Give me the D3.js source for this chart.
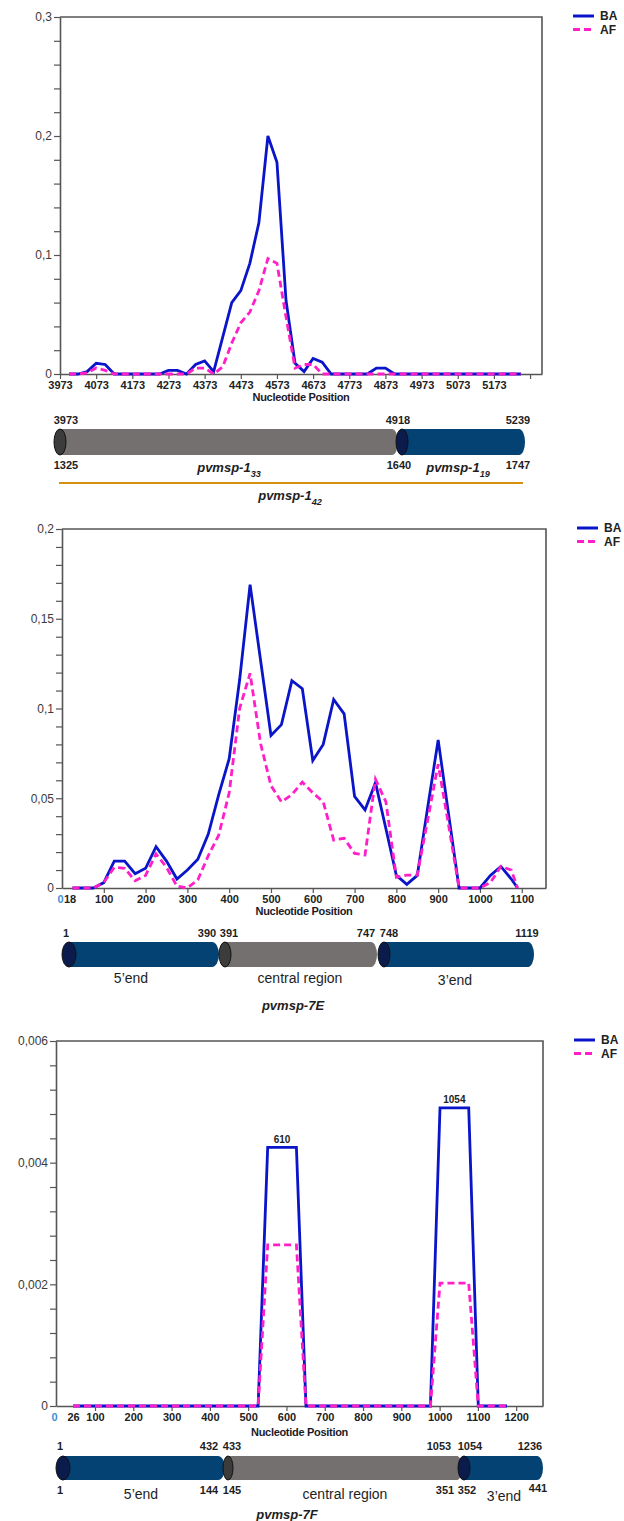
<!DOCTYPE html>
<html><head><meta charset="utf-8">
<script src="https://cdn.jsdelivr.net/npm/d3@7"></script>
<style>
body{margin:0;background:#fff}
svg{display:block}
text{font-family:"Liberation Sans",Arial,Helvetica,sans-serif}
</style>
</head><body>
<svg id="c" width="624" height="1521"></svg>
<script>
// ---------------- DATA ----------------
const seriesNames = ["BA", "AF"];

// Chart 1 : pvmsp-1_42
const msp1Pos = [3998,4023,4048,4073,4098,4123,4148,4173,4198,4223,4248,4273,4298,4323,4348,4373,4398,4423,4448,4473,4498,4523,4548,4573,4598,4623,4648,4673,4698,4723,4748,4773,4798,4823,4848,4873,4898,4923,4948,4973,4998,5023,5048,5073,5098,5123,5148,5173,5198,5223,5248];
const msp1BA = [0,0,0.002,0.009,0.008,0,0,0,0,0,0,0.003,0.003,0,0.008,0.011,0.002,0.031,0.060,0.070,0.093,0.127,0.200,0.178,0.062,0.009,0.002,0.013,0.010,0,0,0,0,0,0.005,0.005,0,0,0,0,0,0,0,0,0,0,0,0,0,0,0];
const msp1AF = [0,0,0.001,0.005,0.003,0,0,0,0,0,0,0,0,0,0.005,0.005,0,0.006,0.026,0.043,0.052,0.070,0.097,0.093,0.048,0.005,0.008,0.008,0,0,0,0,0,0,0,0,0,0,0,0,0,0,0,0,0,0,0,0,0,0,0];
const msp1XTicks = [3973,4073,4173,4273,4373,4473,4573,4673,4773,4873,4973,5073,5173,5273];
const msp1XTickLabels = ["3973","4073","4173","4273","4373","4473","4573","4673","4773","4873","4973","5073","5173",""];
const msp1YTicks = [0,0.1,0.2,0.3];
const msp1YTickLabels = ["0","0,1","0,2","0,3"];
const msp1GeneTop = ["3973","4918","5239"];
const msp1GeneBottom = ["1325","1640","1747"];
const msp1Names = [["pvmsp-1","33"],["pvmsp-1","19"],["pvmsp-1","42"]];

// Chart 2 : pvmsp-7E
const e7Pos = [25,50,75,100,125,150,175,200,225,250,275,300,325,350,375,400,425,450,475,500,525,550,575,600,625,650,675,700,725,750,775,800,825,850,875,900,925,950,975,1000,1025,1050,1075,1090];
const e7BA = [0,0,0,0.003,0.015,0.015,0.008,0.011,0.023,0.015,0.005,0.010,0.016,0.030,0.052,0.072,0.116,0.169,0.127,0.085,0.091,0.1155,0.111,0.071,0.080,0.105,0.097,0.051,0.0435,0.0587,0.033,0.007,0.002,0.007,0.045,0.0825,0.041,0,0,0,0.007,0.012,0.005,0];
const e7AF = [0,0,0,0.003,0.0115,0.011,0.004,0.007,0.019,0.0115,0.001,0,0.0045,0.018,0.0295,0.053,0.100,0.1196,0.0806,0.057,0.048,0.052,0.059,0.053,0.048,0.0267,0.0277,0.0193,0.0184,0.0606,0.048,0.006,0.0072,0.0072,0.038,0.069,0.035,0,0,0,0.003,0.012,0.010,0];
const e7XTicks = [0,18,100,200,300,400,500,600,700,800,900,1000,1100];
const e7XTickLabels = ["0","18","100","200","300","400","500","600","700","800","900","1000","1100"];
const e7YTicks = [0,0.05,0.1,0.15,0.2];
const e7YTickLabels = ["0","0,05","0,1","0,15","0,2"];
const e7GeneTop = ["1","390","391","747","748","1119"];
const e7Regions = ["5\u2019end","central region","3\u2019end"];
const e7Name = "pvmsp-7E";

// Chart 3 : pvmsp-7F
const f7Pos = [26,526,551,626,651,976,1001,1076,1101,1176];
const f7BA = [0,0,0.00425,0.00425,0,0,0.0049,0.0049,0,0];
const f7AF = [0,0,0.00265,0.00265,0,0,0.00202,0.00202,0,0];
const f7PeakLabels = ["610","1054"];
const f7XTicks = [0,26,100,200,300,400,500,600,700,800,900,1000,1100,1200];
const f7XTickLabels = ["0","26","100","200","300","400","500","600","700","800","900","1000","1100","1200"];
const f7YTicks = [0,0.002,0.004,0.006];
const f7YTickLabels = ["0","0,002","0,004","0,006"];
const f7GeneTop = ["1","432","433","1053","1054","1236"];
const f7GeneBottom = ["1","144","145","351","352","441"];
const f7Regions = ["5\u2019end","central region","3\u2019end"];
const f7Name = "pvmsp-7F";

// ---------------- STYLE ----------------
const BLUE = "#0a14c8", PINK = "#ff1ec8";
const AXIS = "#555";
const GRAY_BODY = "#747070", GRAY_CAP = "#3c3c3c";
const BLUE_BODY = "#034272", BLUE_CAP = "#0b1c4c";

const svg = d3.select("#c");

function drawChart(cfg) {
  const g = svg.append("g");
  const x = d3.scaleLinear().domain(cfg.xDomain).range(cfg.xRange);
  const y = d3.scaleLinear().domain(cfg.yDomain).range([cfg.bottom, cfg.top]);
  const left = cfg.xRange[0], right = cfg.xRange[cfg.xRange.length - 1];

  // frame (top + right)
  g.append("path")
    .attr("d", `M${left},${cfg.top}H${right}V${cfg.bottom}`)
    .attr("fill", "none").attr("stroke", AXIS).attr("stroke-width", 1.6);

  // y axis with minor ticks
  const minor = d3.range(0, cfg.yDomain[1] + cfg.yMinor / 2, cfg.yMinor);
  const labFor = d => {
    const i = cfg.yTicks.findIndex(m => Math.abs(m - d) < 1e-9);
    return i >= 0 ? cfg.yTickLabels[i] : "";
  };
  const ya = g.append("g").attr("transform", `translate(${left},0)`)
    .call(d3.axisLeft(y).tickValues(minor).tickSize(6).tickSizeOuter(0).tickPadding(2).tickFormat(labFor));
  ya.select(".domain").attr("stroke", AXIS).attr("stroke-width", 1.6);
  ya.selectAll(".tick line").attr("stroke", AXIS).attr("stroke-width", 1.2);
  ya.selectAll(".tick text").attr("font-size", 12).attr("fill", "#3a3a3a")
    .attr("font-family", "Liberation Sans, Arial, sans-serif");

  // x axis
  const xa = g.append("g").attr("transform", `translate(0,${cfg.bottom})`)
    .call(d3.axisBottom(x).tickValues(cfg.xTicks).tickSize(5).tickSizeOuter(0).tickPadding(2)
      .tickFormat((d, i) => cfg.xTickLabels[i]));
  xa.select(".domain").attr("stroke", AXIS).attr("stroke-width", 1.6);
  xa.selectAll(".tick line").attr("stroke", AXIS).attr("stroke-width", 1.2);
  xa.selectAll(".tick text").attr("font-size", 11).attr("font-weight", "bold")
    .attr("font-family", "Liberation Sans, Arial, sans-serif")
    .attr("fill", d => (cfg.zeroBlue && d === 0) ? "#3d8fd6" : "#222")
    .attr("dx", d => (cfg.zeroBlue && d === 0) ? -2 : 0);
  if (cfg.hideTickAt) {
    xa.selectAll(".tick").filter(d => cfg.hideTickAt.includes(d)).select("line").remove();
  }

  // axis title
  g.append("text").attr("x", (left + right) / 2).attr("y", cfg.bottom + cfg.titleOffset)
    .attr("dy", "0.35em").attr("text-anchor", "middle")
    .attr("font-size", 11).attr("font-weight", "bold").attr("letter-spacing", -0.3).attr("fill", "#1a1a2a")
    .text("Nucleotide Position");

  // lines
  const line = d3.line().x(d => x(d[0])).y(d => y(d[1]));
  const ba = cfg.pos.map((p, i) => [p, cfg.ba[i]]);
  const af = cfg.pos.map((p, i) => [p, cfg.af[i]]);
  g.append("path").datum(ba).attr("d", line).attr("fill", "none")
    .attr("stroke", BLUE).attr("stroke-width", 2.8).attr("stroke-linejoin", "miter");
  g.append("path").datum(af).attr("d", line).attr("fill", "none")
    .attr("stroke", PINK).attr("stroke-width", 2.8).attr("stroke-dasharray", "7,4");

  // legend
  const lg = g.append("g");
  [0, 1].forEach(i => {
    const ly = cfg.top - 1 + i * 13.5;
    lg.append("line").attr("x1", right + 31).attr("x2", right + 52)
      .attr("y1", ly).attr("y2", ly)
      .attr("stroke", i === 0 ? BLUE : PINK).attr("stroke-width", 3)
      .attr("stroke-dasharray", i === 0 ? null : "7,4");
    lg.append("text").attr("x", right + 58).attr("y", ly).attr("dy", "0.35em")
      .attr("font-size", 12).attr("font-weight", "bold").attr("fill", "#222")
      .text(seriesNames[i]);
  });
  return { x, y, g };
}

function cylinder(x0, x1, cy, h, body, cap, rx) {
  const ry = h / 2;
  svg.append("path")
    .attr("d", `M${x0},${cy - ry}H${x1 - rx}A${rx},${ry} 0 0 1 ${x1 - rx},${cy + ry}H${x0}Z`)
    .attr("fill", body);
  svg.append("ellipse").attr("cx", x0).attr("cy", cy).attr("rx", rx).attr("ry", ry)
    .attr("fill", cap).attr("stroke", "#111").attr("stroke-width", 1);
}

function label(txt, x, y, opts = {}) {
  const t = svg.append("text").attr("x", x).attr("y", y).attr("dy", "0.35em")
    .attr("text-anchor", opts.anchor || "middle")
    .attr("font-size", opts.size || 11)
    .attr("font-weight", opts.weight || "bold")
    .attr("font-style", opts.italic ? "italic" : null)
    .attr("fill", opts.fill || "#1e1e1e");
  if (Array.isArray(txt)) {
    t.append("tspan").text(txt[0]);
    t.append("tspan").attr("baseline-shift", "sub").attr("font-size", (opts.size || 11) * 0.7).text(txt[1]);
  } else t.text(txt);
  return t;
}

// ---------------- CHART 1 ----------------
drawChart({
  xRange: [60, 542], top: 17, bottom: 374, titleOffset: 23,
  xDomain: [3973, 5306], yDomain: [0, 0.3], yMinor: 0.02,
  xTicks: msp1XTicks, xTickLabels: msp1XTickLabels,
  yTicks: msp1YTicks, yTickLabels: msp1YTickLabels,
  pos: msp1Pos, ba: msp1BA, af: msp1AF
});
cylinder(60, 398, 442, 26, GRAY_BODY, GRAY_CAP, 6);
cylinder(402, 525, 442, 26, BLUE_BODY, BLUE_CAP, 6);
[66, 398, 518].forEach((px, i) => label(msp1GeneTop[i], px, 420));
[66, 399, 518].forEach((px, i) => label(msp1GeneBottom[i], px, 465));
label(msp1Names[0], 229, 467, { size: 13, italic: true });
label(msp1Names[1], 458, 467, { size: 13, italic: true });
svg.append("line").attr("x1", 59).attr("x2", 523).attr("y1", 483).attr("y2", 483)
  .attr("stroke", "#d4900e").attr("stroke-width", 2);
label(msp1Names[2], 290, 495, { size: 13, italic: true });

// ---------------- CHART 2 ----------------
drawChart({
  xRange: [62, 546], top: 529, bottom: 888, titleOffset: 23,
  xDomain: [0, 1158], yDomain: [0, 0.2], yMinor: 0.01,
  xTicks: e7XTicks, xTickLabels: e7XTickLabels, zeroBlue: true, hideTickAt: [0, 18],
  yTicks: e7YTicks, yTickLabels: e7YTickLabels,
  pos: e7Pos, ba: e7BA, af: e7AF
});
cylinder(69, 219, 954.5, 25, BLUE_BODY, BLUE_CAP, 7);
cylinder(225, 377, 954.5, 25, GRAY_BODY, GRAY_CAP, 6);
cylinder(384, 534, 954.5, 25, BLUE_BODY, BLUE_CAP, 6);
[66, 207, 229, 366, 389, 527].forEach((px, i) => label(e7GeneTop[i], px, 933));
label(e7Regions[0], 131, 978, { size: 14, weight: "normal" });
label(e7Regions[1], 300, 978, { size: 14, weight: "normal" });
label(e7Regions[2], 455, 980, { size: 14, weight: "normal" });
label(e7Name, 293, 1005, { size: 13, italic: true });

// ---------------- CHART 3 ----------------
const c3 = drawChart({
  xRange: [56, 73, 95, 543], top: 1041, bottom: 1406, titleOffset: 26,
  xDomain: [0, 26, 100, 1270], yDomain: [0, 0.006], yMinor: 0.0004,
  xTicks: f7XTicks, xTickLabels: f7XTickLabels, zeroBlue: true, hideTickAt: [0, 26],
  yTicks: f7YTicks, yTickLabels: f7YTickLabels,
  pos: f7Pos, ba: f7BA, af: f7AF
});
// peak annotations above BA plateaus
[[2, 3], [6, 7]].forEach((pair, k) => {
  const cx = (c3.x(f7Pos[pair[0]]) + c3.x(f7Pos[pair[1]])) / 2;
  const cy = c3.y(f7BA[pair[0]]) - 8;
  label(f7PeakLabels[k], cx, cy, { size: 10 });
});
cylinder(63, 225, 1468, 24, BLUE_BODY, BLUE_CAP, 7);
cylinder(228, 462, 1468, 24, GRAY_BODY, GRAY_CAP, 5);
cylinder(464, 543, 1468, 24, BLUE_BODY, BLUE_CAP, 6);
[60, 209, 232, 439, 470, 530].forEach((px, i) => label(f7GeneTop[i], px, 1446));
[60, 209, 232, 445, 467, 538].forEach((px, i) => label(f7GeneBottom[i], px, i === 5 ? 1488 : 1490));
label(f7Regions[0], 141, 1494, { size: 14, weight: "normal" });
label(f7Regions[1], 345, 1494, { size: 14, weight: "normal" });
label(f7Regions[2], 504, 1496, { size: 14, weight: "normal" });
label(f7Name, 287, 1514, { size: 13, italic: true });
</script>
</body></html>
